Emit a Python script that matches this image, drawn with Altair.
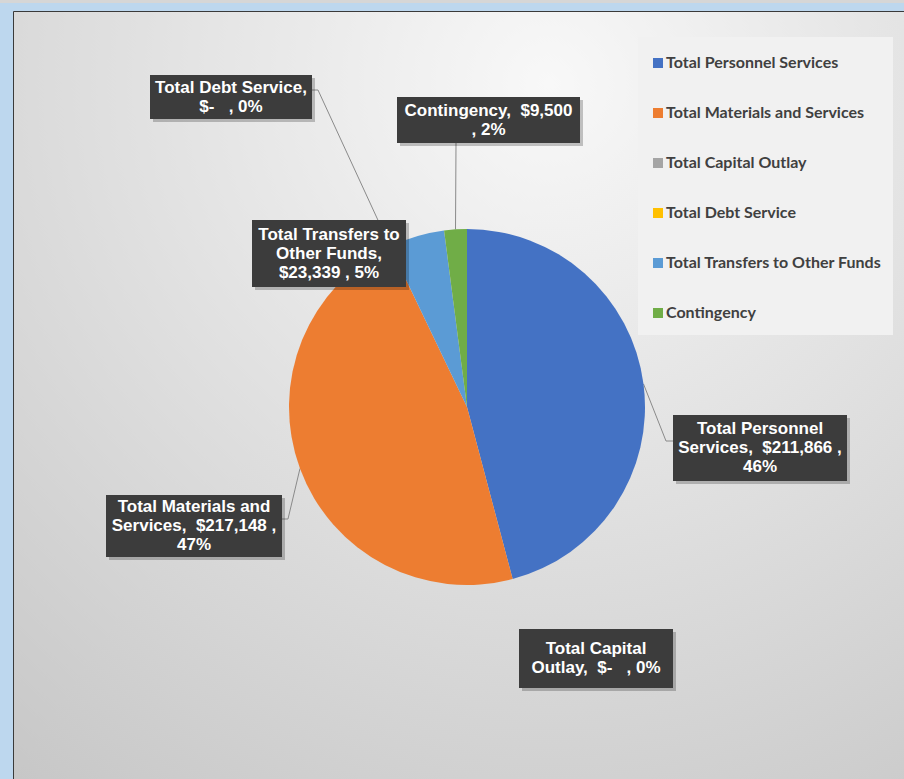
import altair as alt
import pandas as pd

W, H = 904, 779

# Budget categories and amounts
categories = [
    "Total Personnel Services",
    "Total Materials and Services",
    "Total Capital Outlay",
    "Total Debt Service",
    "Total Transfers to Other Funds",
    "Contingency",
]
amounts = [211866, 217148, 0, 0, 23339, 9500]
colors = ["#4472C4", "#ED7D31", "#A5A5A5", "#FFC000", "#5B9BD5", "#70AD47"]

# Pie geometry (pixels)
CX, CY, R = 467, 407, 178

# Data-label layout: box (x1, y1, x2, y2), words per line, leader anchor on box and elbow
label_layout = {
    "Total Personnel Services": dict(box=(673, 415, 847, 481), lines=[2, 3, 1], anchor=(673, 441), elbow=(666, 441)),
    "Total Materials and Services": dict(box=(106, 495, 282, 557), lines=[3, 3, 1], anchor=(282, 519), elbow=(288, 519)),
    "Total Capital Outlay": dict(box=(519, 629, 673, 688), lines=[2, 4], anchor=None, elbow=None),
    "Total Debt Service": dict(box=(150, 75, 312, 119), lines=[3, 3], anchor=(312, 90), elbow=(318, 90)),
    "Total Transfers to Other Funds": dict(box=(252, 220, 406, 287), lines=[3, 2, 3], anchor=None, elbow=None),
    "Contingency": dict(box=(397, 97, 580, 143), lines=[2, 2], anchor=(456, 143), elbow=(456, 143)),
}
LINE_H = 19

NB = "\u00a0"
total = sum(amounts)


def money(v):
    return f"$-{NB}{NB}" if v == 0 else f"${v:,}"


def label_text(name, v, counts):
    words = name.split(" ")
    words[-1] += ","
    tokens = words + [NB + money(v), ",", f"{round(100 * v / total)}%"]
    out, i = [], 0
    for n in counts:
        out.append(" ".join(tokens[i:i + n]).strip())
        i += n
    return "\n".join(out)


rows = []
for i, (c, v) in enumerate(zip(categories, amounts)):
    lay = label_layout[c]
    x1, y1, x2, y2 = lay["box"]
    n_lines = len(lay["lines"])
    row = dict(
        category=c, amount=v, idx=i,
        label=label_text(c, v, lay["lines"]),
        bx1=x1, by1=y1, bx2=x2, by2=y2,
        tx=(x1 + x2) / 2,
        ty=(y1 + y2) / 2 - (n_lines - 1) * LINE_H / 2,
        sx1=x1 + 3, sy1=y1 + 3, sx2=x2 + 3, sy2=y2 + 3,
        has_leader=lay["anchor"] is not None,
        ax=lay["anchor"][0] if lay["anchor"] else None,
        ay=lay["anchor"][1] if lay["anchor"] else None,
        elx=lay["elbow"][0] if lay["elbow"] else None,
        ely=lay["elbow"][1] if lay["elbow"] else None,
    )
    rows.append(row)
df = pd.DataFrame(rows)

xs = alt.Scale(domain=[0, W], range=[0, W], nice=False, zero=False)
ys = alt.Scale(domain=[0, H], range=[0, H], nice=False, zero=False)

one = pd.DataFrame({"k": [0]})

# Frame: thin gray strip on top, chart area with soft radial gradient
strip = alt.Chart(one).mark_rect(color="#d6d6d6").encode(
    x=alt.value(0), x2=alt.value(W), y=alt.value(0), y2=alt.value(3)
)
panel = alt.Chart(one).mark_rect(
    fill={
        "gradient": "radial",
        "x1": 0.6, "y1": 0.15, "x2": 0.6, "y2": 0.15, "r1": 0, "r2": 1.0,
        "stops": [
            {"offset": 0, "color": "#f8f8f8"},
            {"offset": 1, "color": "#c6c6c6"},
        ],
    },
    stroke="#3a3a3a",
    strokeWidth=1,
).encode(x=alt.value(13.5), x2=alt.value(W + 2), y=alt.value(11.5), y2=alt.value(H + 2))

# Legend panel backdrop
legend_bg = alt.Chart(one).mark_rect(color="#f1f1f1").encode(
    x=alt.value(638), x2=alt.value(893), y=alt.value(37), y2=alt.value(335)
)

base = alt.Chart(df)

pie = base.mark_arc(outerRadius=R).encode(
    theta=alt.Theta("amount:Q", stack=True),
    order=alt.Order("idx:Q"),
    color=alt.Color(
        "category:N",
        scale=alt.Scale(domain=categories, range=colors),
        legend=alt.Legend(
            title=None,
            orient="none",
            legendX=650,
            legendY=55,
            padding=0,
            symbolType="square",
            symbolSize=100,
            symbolStrokeWidth=0,
            labelFont="Lato",
            labelFontSize=16,
            labelFontWeight="bold",
            labelColor="#404040",
            labelOffset=0,
            labelLimit=400,
            rowPadding=34,
        ),
    ),
    x=alt.value(CX),
    y=alt.value(CY),
)

# Leader lines from slice midpoints on the rim to their labels
leaders = (
    base.transform_window(cum="sum(amount)", sort=[alt.SortField("idx", order="ascending")])
    .transform_joinaggregate(total="sum(amount)")
    .transform_calculate(mid="(datum.cum - datum.amount / 2) / datum.total * 2 * PI")
    .transform_calculate(
        ex=f"{CX} + {R} * sin(datum.mid)",
        ey=f"{CY} - {R} * cos(datum.mid)",
    )
    .transform_filter("datum.has_leader")
)
lead1 = leaders.mark_rule(color="#8a8a8a", strokeWidth=1).encode(
    x=alt.X("ex:Q", scale=xs, axis=None),
    y=alt.Y("ey:Q", scale=ys, axis=None),
    x2="elx:Q",
    y2="ely:Q",
)
lead2 = leaders.mark_rule(color="#8a8a8a", strokeWidth=1).encode(
    x=alt.X("elx:Q", scale=xs, axis=None),
    y=alt.Y("ely:Q", scale=ys, axis=None),
    x2="ax:Q",
    y2="ay:Q",
)

shadow = base.mark_rect(color="#000000", opacity=0.22).encode(
    x=alt.X("sx1:Q", scale=xs, axis=None),
    x2="sx2:Q",
    y=alt.Y("sy1:Q", scale=ys, axis=None),
    y2="sy2:Q",
)
boxes = base.mark_rect(color="#3c3c3c").encode(
    x=alt.X("bx1:Q", scale=xs, axis=None),
    x2="bx2:Q",
    y=alt.Y("by1:Q", scale=ys, axis=None),
    y2="by2:Q",
)
texts = base.mark_text(
    font="Liberation Sans",
    fontSize=17,
    fontWeight="bold",
    color="#ffffff",
    align="center",
    baseline="middle",
    lineBreak="\n",
    lineHeight=LINE_H,
).encode(
    x=alt.X("tx:Q", scale=xs, axis=None),
    y=alt.Y("ty:Q", scale=ys, axis=None),
    text="label:N",
)

chart = (
    alt.layer(strip, panel, legend_bg, lead1, lead2, pie, shadow, boxes, texts)
    .properties(
        width=W,
        height=H,
        autosize=alt.AutoSizeParams(type="none"),
        padding=0,
        background="#BDD7EE",
    )
    .configure_view(stroke=None)
)

chart.save("out.html", embed_options={"renderer": "svg", "actions": False})
